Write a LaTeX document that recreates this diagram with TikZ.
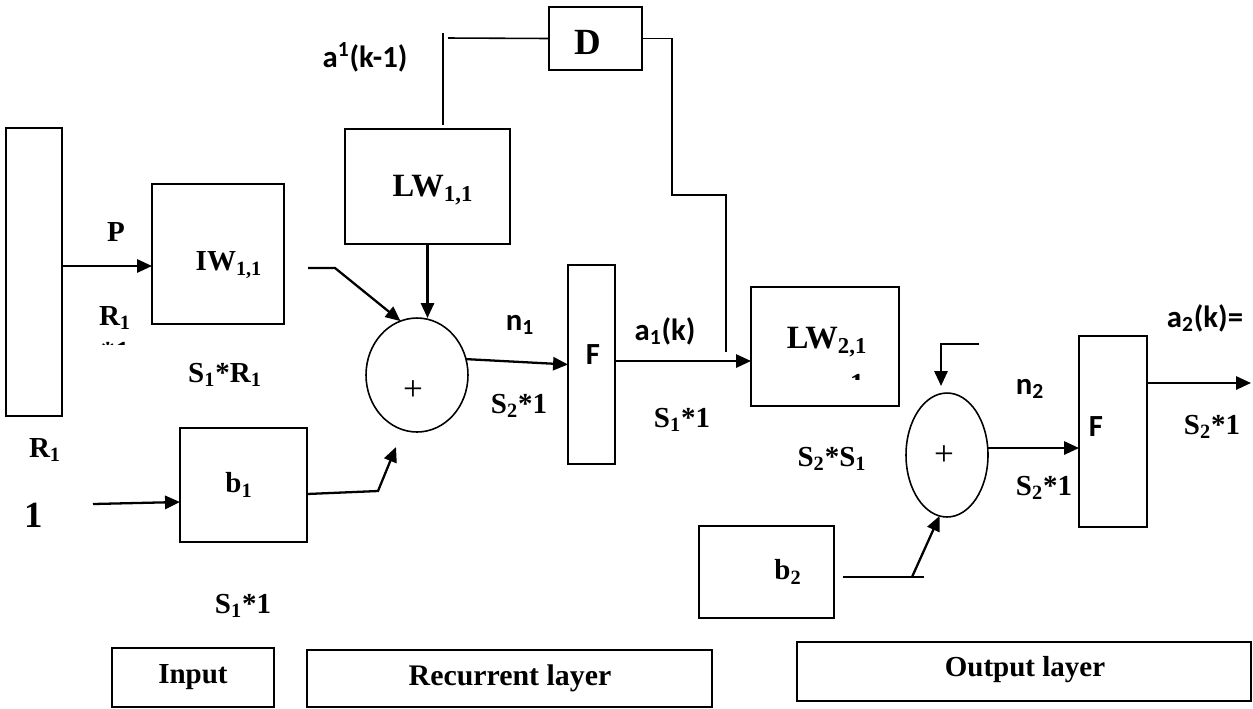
\documentclass[tikz,border=0pt]{standalone}
\usepackage{fontspec}
\setmainfont{Liberation Serif}
\newfontfamily\lblsans{Carlito}
\usetikzlibrary{arrows.meta,shapes.geometric,calc}

\begin{document}
\begin{tikzpicture}[x=0.02cm,y=-0.02cm,
  box/.style={draw,line width=0.9pt,inner sep=0pt,outer sep=0pt},
  sumnode/.style={draw,ellipse,line width=0.9pt,inner sep=0pt,outer sep=0pt},
  wire/.style={line width=0.9pt},
  arr/.style={line width=1.3pt,-{Triangle[length=8.5pt,width=7.5pt]}},
  st/.style={inner sep=0pt,font=\fontsize{16.5}{18}\selectfont\bfseries},
  stbig/.style={inner sep=0pt,font=\fontsize{18.5}{20}\selectfont\bfseries},
  sl/.style={inner sep=0pt,font=\fontsize{17.5}{19}\selectfont\lblsans\bfseries},
]
\useasboundingbox (0,0) rectangle (1253,708);

% ---------- blocks ----------
\node[box,minimum width=1.12cm,minimum height=5.76cm] (inrect) at (34,272) {};
\node[box,minimum width=2.64cm,minimum height=2.8cm]  (IW)   at (218,254) {};
\node[box,minimum width=3.3cm, minimum height=2.3cm]  (LW11) at (427.5,186.5) {};
\node[box,minimum width=1.86cm,minimum height=1.26cm] (D)    at (595.5,38.5) {};
\node[sumnode,minimum width=2.04cm,minimum height=2.28cm] (sum1) at (417,375) {};
\node[box,minimum width=0.94cm,minimum height=3.98cm] (F1)   at (591.5,364.5) {};
\node[box,minimum width=2.96cm,minimum height=2.38cm] (LW21) at (825,346.5) {};
\node[sumnode,minimum width=1.64cm,minimum height=2.48cm] (sum2) at (947,455) {};
\node[box,minimum width=1.36cm,minimum height=3.82cm] (F2)   at (1113,431.5) {};
\node[box,minimum width=2.54cm,minimum height=2.28cm] (b1)   at (243.5,485) {};
\node[box,minimum width=2.7cm, minimum height=1.84cm] (b2)   at (766.5,572) {};
\node[box,minimum width=3.24cm,minimum height=1.18cm] (inbox)  at (193,677.5) {};
\node[box,minimum width=8.1cm, minimum height=1.14cm] (recbox) at (509.5,678.5) {};
\node[box,minimum width=9.08cm,minimum height=1.18cm] (outbox) at (1024,671.5) {};

% ---------- texts ----------
\node[st] (tP)    at (116,232) {P};
\node[st] (tIW)   at (229,265) {IW\textsubscript{1,1}};
\node[st] (tR1a)  at (115,318) {R\textsubscript{1}};
\begin{scope}
  \clip (95,336) rectangle (135,344);
  \node[st] (tR1b) at (115,352) {*1};
\end{scope}
\node[stbig] (tLW11) at (433,190) {LW\textsubscript{1,1}};
\node[st,font=\fontsize{21}{23}\selectfont\bfseries] (tD) at (588,42) {D};
\node[sl] (tak1)  at (365,57) {a\textsuperscript{1}(k-1)};
\node[sl] (tn1)   at (520,325) {n\textsubscript{1}};
\node[sl] (tF1)   at (593,355) {F};
\node[st] (tS21a) at (519,406) {S\textsubscript{2}*1};
\node[sl] (ta1k)  at (665,331) {a\textsubscript{1}(k)};
\node[inner sep=0pt,font=\fontsize{20}{22}\selectfont] (tplus1) at (413,391) {+};
\node[st] (tS1R1) at (225,375) {S\textsubscript{1}*R\textsubscript{1}};
\node[st] (tR1c)  at (45,450) {R\textsubscript{1}};
\node[st,font=\fontsize{21}{23}\selectfont\bfseries] (tone) at (34,515) {1};
\node[st] (tb1)   at (239,485) {b\textsubscript{1}};
\node[st] (tS11a) at (243,606) {S\textsubscript{1}*1};
\node[st] (tin)   at (193,677) {Input};
\node[st,font=\fontsize{17}{19}\selectfont\bfseries] (trec) at (510,678) {Recurrent layer};
\node[stbig] (tLW21) at (827,342) {LW\textsubscript{2,1}};
\begin{scope}
  \clip (845,371) rectangle (870,379);
  \node[st] (tLW21b) at (857,384) {1};
\end{scope}
\node[st] (tS11b) at (682,420) {S\textsubscript{1}*1};
\node[st] (tS2S1) at (832,459) {S\textsubscript{2}*S\textsubscript{1}};
\node[inner sep=0pt,font=\fontsize{20}{22}\selectfont] (tplus2) at (944,456) {+};
\node[sl] (tn2)   at (1030,389) {n\textsubscript{2}};
\node[st] (tS21b) at (1044,488) {S\textsubscript{2}*1};
\node[sl] (tF2)   at (1096,427) {F};
\node[sl] (ta2k)  at (1205,318) {a\textsubscript{2}(k)=};
\node[st] (tS21c) at (1212,427) {S\textsubscript{2}*1};
\node[st] (tb2)   at (788,572) {b\textsubscript{2}};
\node[st] (tout)  at (1025,670) {Output layer};

% ---------- helper points ----------
\coordinate (pY)    at (0,266);
\coordinate (iwA)   at (308,268);
\coordinate (iwB)   at (335,268);
\coordinate (fbTop) at (443,33);
\coordinate (fbBot) at (443,125);
\coordinate (fbIn)  at (448,38);
\coordinate (fbA)   at (672,195);
\coordinate (fbB)   at (726,352);
\coordinate (a1Y)   at (0,361);
\coordinate (oneA)  at (93,504);
\coordinate (oneY)  at (0,502);
\coordinate (b1Y)   at (0,494);
\coordinate (b1A)   at (378,491);
\coordinate (b1B)   at (396,447);
\coordinate (s2A)   at (979,344);
\coordinate (s2B)   at (941,344);
\coordinate (s2C)   at (941,386);
\coordinate (n2Y)   at (0,448);
\coordinate (oY)    at (0,383);
\coordinate (oEnd)  at (1251,383);
\coordinate (b2A)   at (843,577);
\coordinate (b2B)   at (924,577);
\coordinate (b2C)   at (912,577);

% ---------- connectors ----------
\draw[arr] (inrect.east |- pY) -- (IW.west |- pY);
\draw[arr] (iwA) -- (iwB) -- (sum1.107);
\draw[arr] (LW11.south) -- (LW11.south |- sum1.north);
\draw[wire] (fbTop) -- (fbBot);
\draw[wire] (fbIn) -- (D.west);
\draw[wire] (D.east) -| (fbA) -| (fbB);
\draw[arr] (sum1.18) -- (F1.west);
\draw[arr] (F1.east |- a1Y) -- (LW21.west |- a1Y);
\draw[arr] (oneA) -- (b1.west |- oneY);
\draw[arr] (b1.east |- b1Y) -- (b1A) -- (b1B);
\draw[arr] (s2A) -- (s2B) -- (s2C);
\draw[arr] (sum2.east |- n2Y) -- (F2.west |- n2Y);
\draw[arr] (F2.east |- oY) -- (oEnd);
\draw[wire,line width=1.2pt] (b2A) -- (b2B);
\draw[arr] (b2C) -- (sum2.263);
\end{tikzpicture}
\end{document}
